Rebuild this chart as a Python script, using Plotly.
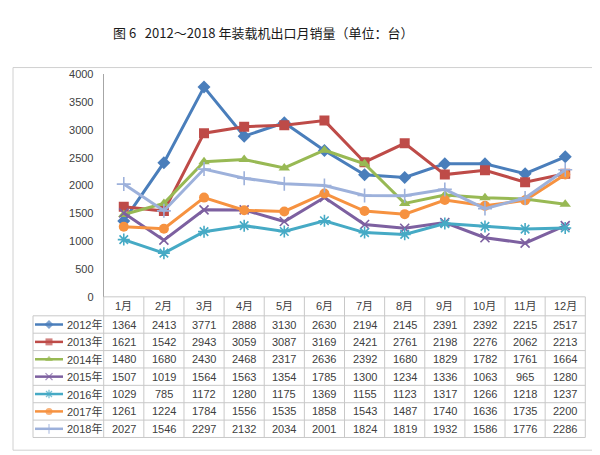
import plotly.graph_objects as go

# data
months = ["1月", "2月", "3月", "4月", "5月", "6月", "7月", "8月", "9月", "10月", "11月", "12月"]
years = ["2012年", "2013年", "2014年", "2015年", "2016年", "2017年", "2018年"]

sales_2012 = [1364, 2413, 3771, 2888, 3130, 2630, 2194, 2145, 2391, 2392, 2215, 2517]
sales_2013 = [1621, 1542, 2943, 3059, 3087, 3169, 2421, 2761, 2198, 2276, 2062, 2213]
sales_2014 = [1480, 1680, 2430, 2468, 2317, 2636, 2392, 1680, 1829, 1782, 1761, 1664]
sales_2015 = [1507, 1019, 1564, 1563, 1354, 1785, 1300, 1234, 1336, 1063, 965, 1280]
sales_2016 = [1029, 785, 1172, 1280, 1175, 1369, 1155, 1123, 1317, 1266, 1218, 1237]
sales_2017 = [1261, 1224, 1784, 1556, 1535, 1858, 1543, 1487, 1740, 1636, 1735, 2200]
sales_2018 = [2027, 1546, 2297, 2132, 2034, 2001, 1824, 1819, 1932, 1586, 1776, 2286]

all_sales = [sales_2012, sales_2013, sales_2014, sales_2015, sales_2016, sales_2017, sales_2018]

# Excel 2007 style look
colors = ["#4A7EBB", "#BE4B48", "#98B954", "#7D60A0", "#46AAC5", "#F69240", "#9DB1DB"]
symbols = ["diamond", "square", "triangle-up", "x-thin-open", "asterisk-open", "circle", "cross-thin-open"]
msizes = [10, 10, 10, 9, 10, 10, 10]

W, H = 600, 455
PLOT_L, PLOT_R = 95.7, 577.3      # pixel x of plot area / table month columns
Y_TOP, Y_ZERO = 62.0, 290.5       # pixel y of 4000 and 0
TABLE_L = 25.0
ROW_TOP = 310.0
ROW_H = 17.85
GRID = "#c8c8c8"
TXT = "#404040"

fig = go.Figure()

for i in range(len(years)):
    open_sym = symbols[i].endswith("open")
    fig.add_trace(go.Scatter(
        x=months, y=all_sales[i], mode="lines+markers", name=years[i],
        line=dict(color=colors[i], width=3),
        marker=dict(symbol=symbols[i], size=msizes[i], color=colors[i],
                    line=dict(color=colors[i], width=1.6 if open_sym else 0)),
        xaxis="x", yaxis="y", showlegend=False, hoverinfo="skip"
    ))

# legend keys inside the table (pixel overlay axes)
for i in range(len(years)):
    yc = ROW_TOP + (i + 0.5) * ROW_H
    open_sym = symbols[i].endswith("open")
    fig.add_trace(go.Scatter(
        x=[27, 41, 55], y=[yc, yc, yc], mode="lines+markers",
        line=dict(color=colors[i], width=2.5),
        marker=dict(symbol=symbols[i], size=[0, 7, 0], color=colors[i],
                    line=dict(color=colors[i], width=1.3 if open_sym else 0)),
        xaxis="x2", yaxis="y2", showlegend=False, hoverinfo="skip"
    ))

shapes = []
# chart frame
shapes.append(dict(type="rect", xref="x2", yref="y2", x0=5, x1=589, y0=55, y1=448,
                   line=dict(color="#d0d0d0", width=1)))
# table grid
col_w = (PLOT_R - PLOT_L) / 12
table_bottom = ROW_TOP + len(years) * ROW_H
shapes.append(dict(type="line", xref="x2", yref="y2", x0=PLOT_L, x1=PLOT_R, y0=Y_ZERO, y1=Y_ZERO,
                   line=dict(color=GRID, width=1)))
for r in range(len(years) + 1):
    yy = ROW_TOP + r * ROW_H
    shapes.append(dict(type="line", xref="x2", yref="y2", x0=TABLE_L, x1=PLOT_R, y0=yy, y1=yy,
                       line=dict(color=GRID, width=1)))
shapes.append(dict(type="line", xref="x2", yref="y2", x0=TABLE_L, x1=TABLE_L, y0=ROW_TOP, y1=table_bottom,
                   line=dict(color=GRID, width=1)))
for c in range(13):
    xx = PLOT_L + c * col_w
    shapes.append(dict(type="line", xref="x2", yref="y2", x0=xx, x1=xx, y0=Y_ZERO, y1=table_bottom,
                       line=dict(color=GRID, width=1)))

annotations = []
annotations.append(dict(text="图 6   2012～2018 年装载机出口月销量（单位：台）", xref="x2", yref="y2",
                        x=255, y=19, showarrow=False,
                        font=dict(family="Noto Sans CJK SC", size=13, color="#1a1a1a")))
cell_font = dict(family="Liberation Sans, Noto Sans CJK SC", size=11, color=TXT)
for m in months:
    annotations.append(dict(text=m, xref="x", yref="y2", x=m, y=(Y_ZERO + ROW_TOP) / 2,
                            showarrow=False, font=cell_font))
for i in range(len(years)):
    yc = ROW_TOP + (i + 0.5) * ROW_H
    annotations.append(dict(text=years[i], xref="x2", yref="y2", x=57, y=yc, xanchor="left",
                            showarrow=False, font=cell_font))
    for j, m in enumerate(months):
        annotations.append(dict(text=str(all_sales[i][j]), xref="x", yref="y2", x=m, y=yc,
                                showarrow=False, font=cell_font))

fig.update_layout(
    width=W, height=H,
    margin=dict(l=0, r=0, t=0, b=0),
    paper_bgcolor="white", plot_bgcolor="rgba(0,0,0,0)",
    xaxis=dict(domain=[PLOT_L / W, PLOT_R / W], type="category", range=[-0.5, 11.5],
               showticklabels=False, showgrid=False, zeroline=False, showline=False, ticks=""),
    yaxis=dict(domain=[(H - Y_ZERO) / H, (H - Y_TOP) / H], range=[0, 4000], dtick=500,
               showgrid=False, zeroline=False, showline=True, linecolor="#a6a6a6", linewidth=1,
               ticks="", ticklabelstandoff=7,
               tickfont=dict(family="Liberation Sans", size=11, color=TXT)),
    xaxis2=dict(domain=[0, 1], range=[0, W], visible=False, anchor="y2"),
    yaxis2=dict(domain=[0, 1], range=[H, 0], visible=False, anchor="x2"),
    shapes=shapes,
    annotations=annotations,
)

fig.write_html("out.html")
